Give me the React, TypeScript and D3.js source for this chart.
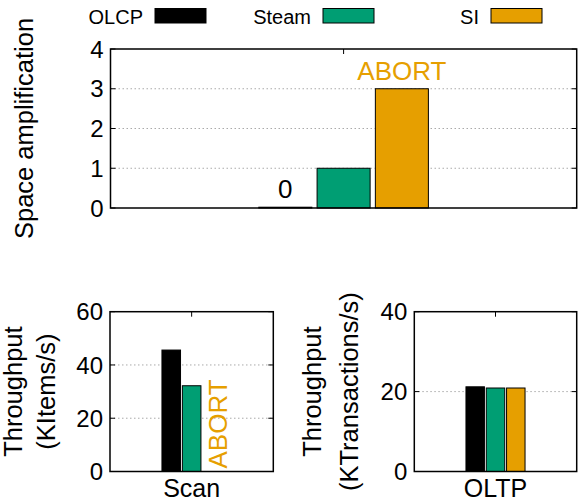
import React from "react";
import * as d3 from "d3";

const seriesNames = ["OLCP", "Steam", "SI"];
const seriesColors = ["#000000", "#009e73", "#e69f00"];

const spaceAmpValues = [0.02, 1, 3];
const spaceAmpLabels = ["0", "", "ABORT"];
const spaceAmpTicks = [0, 1, 2, 3, 4];

const scanCategory = ["Scan"];
const scanValues = [45.6, 32.2, 0];
const scanLabels = ["", "", "ABORT"];
const scanTicks = [0, 20, 40, 60];

const oltpCategory = ["OLTP"];
const oltpValues = [21.2, 20.9, 20.9];
const oltpLabels = ["", "", ""];
const oltpTicks = [0, 20, 40];

const FONT = "'Liberation Sans', Arial, Helvetica, sans-serif";
const ABORT_COLOR = "#e69f00";

type PanelProps = {
  x0: number;
  x1: number;
  y0: number;
  y1: number;
  yMax: number;
  ticks: number[];
  values: number[];
  labels: string[];
  rotatedLabels?: boolean;
  category: string[];
  titles: string[];
  titleXs: number[];
};

function Panel(p: PanelProps) {
  const { x0, x1, y0, y1, yMax, ticks, values, labels, category, titles, titleXs } = p;
  const y = d3.scaleLinear().domain([0, yMax]).range([y1, y0]);
  const cat = d3.scalePoint<string>().domain(category).range([x0, x1]).padding(0.5);
  const cx = cat(category[0]) as number;
  const fw = x1 - x0;
  const step = fw * 0.125;
  const inner = 0.09;
  const xs = d3
    .scaleBand<string>()
    .domain(seriesNames)
    .range([cx - 1.5 * step, cx + 1.5 * step])
    .paddingInner(inner)
    .paddingOuter(inner / 2);
  const bw = xs.bandwidth();
  const midY = (y0 + y1) / 2;
  return (
    <g>
      {ticks
        .filter((t) => t > 0 && t < yMax)
        .map((t) => (
          <line
            key={"g" + t}
            x1={x0}
            x2={x1}
            y1={y(t)}
            y2={y(t)}
            stroke="#aaaaaa"
            strokeWidth={1}
            strokeDasharray="1.5,2.5"
          />
        ))}
      {ticks.map((t) => (
        <g key={"t" + t}>
          <line x1={x0} x2={x0 + 5} y1={y(t)} y2={y(t)} stroke="#000" strokeWidth={1} />
          <line x1={x1 - 5} x2={x1} y1={y(t)} y2={y(t)} stroke="#000" strokeWidth={1} />
          <text
            x={x0 - 7}
            y={y(t)}
            dy="0.36em"
            textAnchor="end"
            fontSize={24}
            fontFamily={FONT}
            fill="#000"
          >
            {t}
          </text>
        </g>
      ))}
      <line x1={cx} x2={cx} y1={y0} y2={y0 + 5} stroke="#000" strokeWidth={1} />
      <line x1={cx} x2={cx} y1={y1} y2={y1 - 5} stroke="#000" strokeWidth={1} />
      {values.map((v, i) =>
        v > 0 ? (
          <rect
            key={"b" + i}
            x={xs(seriesNames[i]) as number}
            y={y(v)}
            width={bw}
            height={y(0) - y(v)}
            fill={seriesColors[i]}
            stroke="#000"
            strokeWidth={1}
          />
        ) : null
      )}
      {labels.map((lab, i) => {
        if (!lab) return null;
        const bx = (xs(seriesNames[i]) as number) + bw / 2;
        const color = lab === "ABORT" ? ABORT_COLOR : "#000";
        if (p.rotatedLabels) {
          return (
            <text
              key={"l" + i}
              transform={`translate(${bx + 15},${y(values[i]) - 3}) rotate(-90)`}
              textAnchor="start"
              fontSize={26}
              fontFamily={FONT}
              fill={color}
            >
              {lab}
            </text>
          );
        }
        return (
          <text
            key={"l" + i}
            x={bx}
            y={y(values[i]) - 9}
            textAnchor="middle"
            fontSize={26}
            fontFamily={FONT}
            fill={color}
          >
            {lab}
          </text>
        );
      })}
      <rect
        x={x0}
        y={y0}
        width={fw}
        height={y1 - y0}
        fill="none"
        stroke="#000"
        strokeWidth={1.5}
      />
      {category[0] ? (
        <text
          x={cx}
          y={y1 + 25}
          textAnchor="middle"
          fontSize={25}
          fontFamily={FONT}
          fill="#000"
        >
          {category[0]}
        </text>
      ) : null}
      {titles.map((t, i) => (
        <text
          key={"yt" + i}
          transform={`translate(${titleXs[i]},${midY}) rotate(-90)`}
          textAnchor="middle"
          fontSize={25.5}
          fontFamily={FONT}
          fill="#000"
        >
          {t}
        </text>
      ))}
    </g>
  );
}

function Legend() {
  const swatchX = [155, 323, 491];
  return (
    <g>
      {seriesNames.map((s, i) => (
        <g key={s}>
          <text
            x={swatchX[i] - 12}
            y={24}
            textAnchor="end"
            fontSize={20}
            fontFamily={FONT}
            fill="#000"
          >
            {s}
          </text>
          <rect
            x={swatchX[i]}
            y={8.5}
            width={51}
            height={14.5}
            fill={seriesColors[i]}
            stroke="#000"
            strokeWidth={1}
          />
        </g>
      ))}
    </g>
  );
}

export default function App() {
  return (
    <svg
      width={579}
      height={501}
      style={{ position: "absolute", left: 0, top: 0, background: "#fff" }}
    >
      <rect width={579} height={501} fill="#fff" />
      <Legend />
      <Panel
        x0={110.5}
        x1={576.7}
        y0={49}
        y1={208}
        yMax={4}
        ticks={spaceAmpTicks}
        values={spaceAmpValues}
        labels={spaceAmpLabels}
        category={[""]}
        titles={["Space amplification"]}
        titleXs={[32.5]}
      />
      <Panel
        x0={110}
        x1={273.3}
        y0={311.7}
        y1={471.5}
        yMax={60}
        ticks={scanTicks}
        values={scanValues}
        labels={scanLabels}
        rotatedLabels
        category={scanCategory}
        titles={["Throughput", "(KItems/s)"]}
        titleXs={[21.5, 55]}
      />
      <Panel
        x0={414.3}
        x1={576.7}
        y0={311.7}
        y1={471.5}
        yMax={40}
        ticks={oltpTicks}
        values={oltpValues}
        labels={oltpLabels}
        category={oltpCategory}
        titles={["Throughput", "(KTransactions/s)"]}
        titleXs={[321, 358]}
      />
    </svg>
  );
}
